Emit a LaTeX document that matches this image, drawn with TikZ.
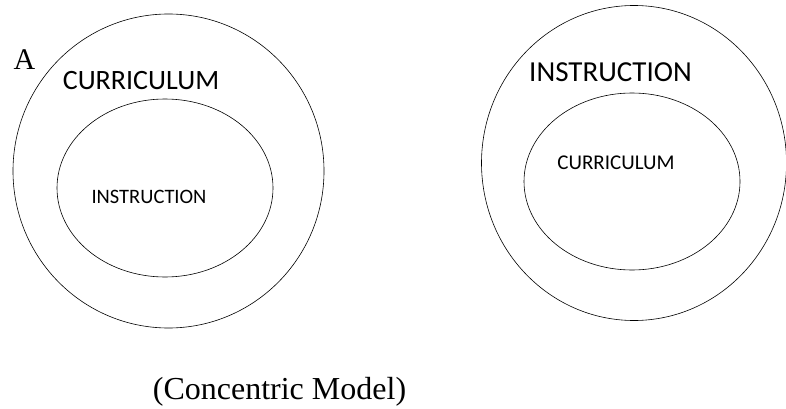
\documentclass[tikz,border=0pt]{standalone}
\usepackage{fontspec}
\setmainfont{Liberation Serif}
\newfontfamily\calfont{Carlito}
\usepackage{tikz}
\usetikzlibrary{positioning,shapes.geometric}

\begin{document}
\begin{tikzpicture}[x=1pt, y=-1pt, ring/.style={draw, ellipse, inner sep=0pt, line width=0.6pt},
    lbl/.style={inner sep=0pt, font=\calfont}]
  \useasboundingbox (0,0) rectangle (786,409);
  % left model
  \node[ring, minimum width=311pt, minimum height=314pt] (outerL) at (168.5,171) {};
  \node[ring, minimum width=216pt, minimum height=178pt] (innerL) at (165,188) {};
  \node[lbl, font=\calfont\fontsize{28}{28}\selectfont] (curL) at (141,81) {CURRICULUM};
  \node[lbl, font=\calfont\fontsize{20.5}{20.5}\selectfont] (insL) at (149,197) {INSTRUCTION};
  \node[inner sep=0pt, font=\fontsize{30}{30}\selectfont] (tagA) at (24.5,60) {A};
  % right model
  \node[ring, minimum width=305pt, minimum height=315pt] (outerR) at (634,163) {};
  \node[ring, minimum width=216pt, minimum height=177pt] (innerR) at (632,181.5) {};
  \node[lbl, font=\calfont\fontsize{29}{29}\selectfont] (insR) at (610.5,72) {INSTRUCTION};
  \node[lbl, font=\calfont\fontsize{21}{21}\selectfont] (curR) at (616,163) {CURRICULUM};
  % caption
  \node[inner sep=0pt, font=\fontsize{32}{32}\selectfont] (cap) at (279.5,392) {(Concentric Model)};
\end{tikzpicture}
\end{document}
